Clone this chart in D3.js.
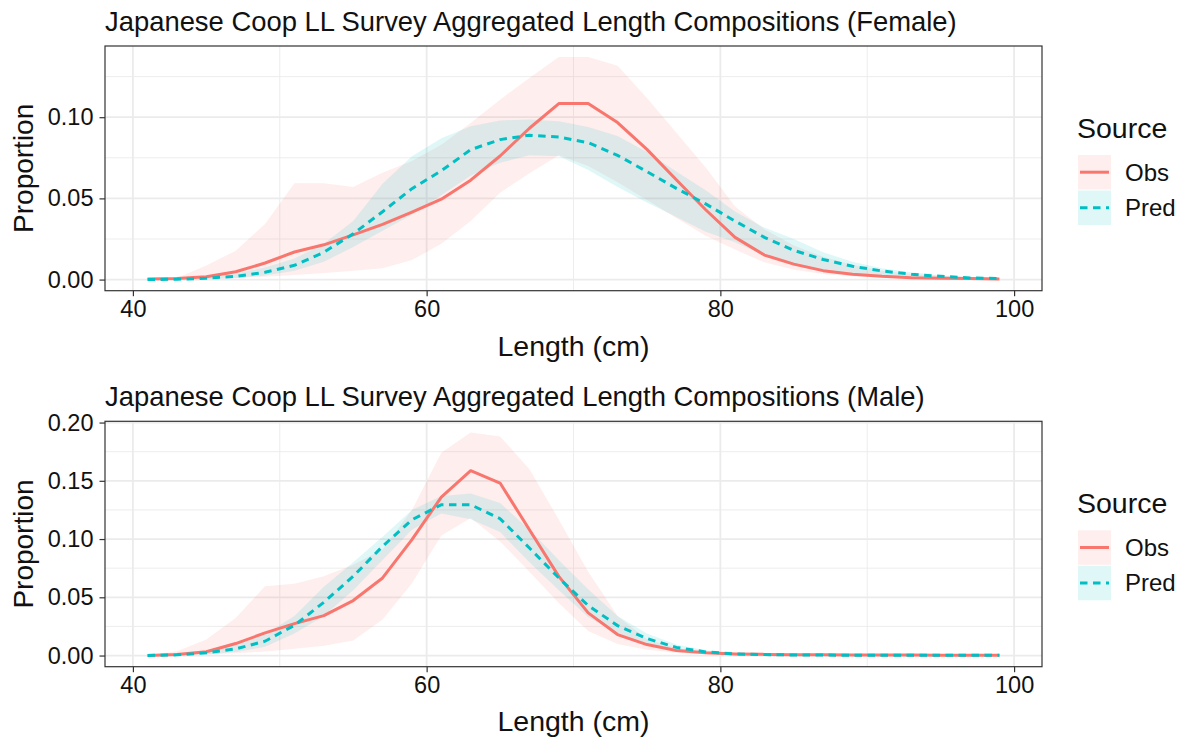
<!DOCTYPE html>
<html>
<head>
<meta charset="utf-8">
<script src="https://cdn.jsdelivr.net/npm/d3@7"></script>
<style>
  html, body { margin: 0; padding: 0; background: #fff; }
  svg { display: block; font-family: "Liberation Sans", Arial, sans-serif; }
</style>
</head>
<body>
<svg id="chart" width="1183" height="738"></svg>
<script>
// ---------------- DATA ----------------
const lengths = [41,43,45,47,49,51,53,55,57,59,61,63,65,67,69,71,73,75,77,79,81,83,85,87,89,91,93,95,97,99];

const femaleObs      = [0.0003,0.0006,0.0018,0.0048,0.0102,0.0170,0.0214,0.0275,0.0340,0.0416,0.0495,0.0612,0.0761,0.0932,0.1084,0.1084,0.0967,0.0802,0.0615,0.0430,0.0260,0.0151,0.0095,0.0055,0.0033,0.0020,0.0012,0.0008,0.0006,0.0004];
const femaleObsHi    = [0.0002,0.0010,0.0086,0.0178,0.0342,0.0593,0.0593,0.0570,0.0658,0.0730,0.0830,0.0965,0.1108,0.1241,0.1370,0.1370,0.1317,0.1119,0.0904,0.0690,0.0450,0.0310,0.0210,0.0140,0.0090,0.0055,0.0035,0.0022,0.0014,0.0010];
const femaleObsLo    = [0.0000,0.0000,0.0002,0.0008,0.0018,0.0028,0.0040,0.0055,0.0070,0.0120,0.0220,0.0360,0.0535,0.0655,0.0765,0.0700,0.0600,0.0490,0.0380,0.0270,0.0185,0.0106,0.0060,0.0035,0.0020,0.0011,0.0006,0.0004,0.0002,0.0001];
const femalePred     = [0.0000,0.0002,0.0008,0.0020,0.0045,0.0088,0.0168,0.0282,0.0418,0.0560,0.0670,0.0800,0.0862,0.0889,0.0878,0.0843,0.0765,0.0665,0.0562,0.0466,0.0360,0.0260,0.0180,0.0124,0.0082,0.0053,0.0033,0.0020,0.0010,0.0006];
const femalePredHi   = [0.0001,0.0005,0.0016,0.0038,0.0075,0.0130,0.0220,0.0360,0.0590,0.0760,0.0870,0.0945,0.0980,0.0986,0.0975,0.0940,0.0884,0.0785,0.0665,0.0550,0.0420,0.0320,0.0250,0.0168,0.0110,0.0070,0.0045,0.0027,0.0016,0.0010];
const femalePredLo   = [0.0000,0.0000,0.0003,0.0010,0.0025,0.0055,0.0110,0.0200,0.0300,0.0400,0.0520,0.0640,0.0720,0.0765,0.0760,0.0675,0.0570,0.0475,0.0385,0.0295,0.0230,0.0147,0.0086,0.0048,0.0027,0.0016,0.0009,0.0005,0.0003,0.0002];

const maleObs        = [0.0000,0.0009,0.0032,0.0103,0.0194,0.0274,0.0343,0.0472,0.0666,0.0995,0.1360,0.1587,0.1481,0.1080,0.0680,0.0366,0.0180,0.0094,0.0043,0.0023,0.0014,0.0010,0.0007,0.0006,0.0005,0.0004,0.0004,0.0003,0.0003,0.0003];
const maleObsHi      = [0.0002,0.0037,0.0137,0.0323,0.0595,0.0617,0.0680,0.0780,0.0910,0.1250,0.1740,0.1915,0.1880,0.1600,0.1166,0.0720,0.0340,0.0140,0.0065,0.0032,0.0016,0.0010,0.0008,0.0008,0.0008,0.0008,0.0008,0.0008,0.0008,0.0008];
const maleObsLo      = [0.0000,0.0002,0.0008,0.0020,0.0035,0.0058,0.0085,0.0130,0.0310,0.0620,0.1030,0.1180,0.0980,0.0720,0.0450,0.0210,0.0100,0.0050,0.0024,0.0012,0.0006,0.0002,0.0002,0.0002,0.0002,0.0002,0.0002,0.0002,0.0002,0.0002];
const malePred       = [0.0000,0.0006,0.0023,0.0057,0.0123,0.0260,0.0457,0.0680,0.0938,0.1166,0.1295,0.1295,0.1175,0.0923,0.0666,0.0429,0.0257,0.0146,0.0070,0.0031,0.0014,0.0008,0.0005,0.0004,0.0003,0.0003,0.0003,0.0003,0.0003,0.0003];
const malePredHi     = [0.0001,0.0012,0.0040,0.0090,0.0180,0.0340,0.0590,0.0800,0.1020,0.1250,0.1370,0.1390,0.1310,0.1080,0.0820,0.0570,0.0340,0.0190,0.0095,0.0045,0.0020,0.0012,0.0008,0.0008,0.0008,0.0008,0.0008,0.0008,0.0008,0.0008];
const malePredLo     = [0.0000,0.0002,0.0010,0.0030,0.0075,0.0190,0.0340,0.0560,0.0820,0.1080,0.1220,0.1170,0.1060,0.0800,0.0560,0.0330,0.0190,0.0100,0.0045,0.0020,0.0009,0.0002,0.0002,0.0002,0.0002,0.0002,0.0002,0.0002,0.0002,0.0002];

const xTicks = [40, 60, 80, 100];
const xMinor = [50, 70, 90];
const femaleYTicks = [0.00, 0.05, 0.10];
const maleYTicks = [0.00, 0.05, 0.10, 0.15, 0.20];
const titles = [
  "Japanese Coop LL Survey Aggregated Length Compositions (Female)",
  "Japanese Coop LL Survey Aggregated Length Compositions (Male)"
];
const xLabel = "Length (cm)";
const yLabel = "Proportion";
const legendTitle = "Source";
const seriesNames = ["Obs", "Pred"];

// ---------------- STYLE / LAYOUT ----------------
const colObs = "#F8766D", colPred = "#00BFC4";
const ribbonAlpha = 0.12;
const dashPred = "7.5,5.5";
const txt = "#111";

const panelLeft = 105, panelRight = 1042;
const panels = [
  { title: titles[0], top: 46, bottom: 290.7, yTicks: femaleYTicks,
    obs: femaleObs, obsHi: femaleObsHi, obsLo: femaleObsLo,
    pred: femalePred, predHi: femalePredHi, predLo: femalePredLo },
  { title: titles[1], top: 421.3, bottom: 666.7, yTicks: maleYTicks,
    obs: maleObs, obsHi: maleObsHi, obsLo: maleObsLo,
    pred: malePred, predHi: malePredHi, predLo: malePredLo }
];

const svg = d3.select("#chart");

const xExt = d3.extent(lengths);
const xPad = (xExt[1] - xExt[0]) * 0.05;
const x = d3.scaleLinear().domain([xExt[0] - xPad, xExt[1] + xPad]).range([panelLeft, panelRight]);

panels.forEach((p, pi) => {
  const off = p.top - panels[0].top;
  const yMax = d3.max([...p.obsHi, ...p.predHi, ...p.obs, ...p.pred]);
  const yMin = d3.min([...p.obsLo, ...p.predLo]);
  const yPad = (yMax - yMin) * 0.05;
  const y = d3.scaleLinear().domain([yMin - yPad, yMax + yPad]).range([p.bottom, p.top]);

  const g = svg.append("g");

  // minor y grid
  const yMinor = [];
  for (let i = 0; i < p.yTicks.length - 1; i++) yMinor.push((p.yTicks[i] + p.yTicks[i + 1]) / 2);
  const step = p.yTicks[1] - p.yTicks[0];
  const extra = p.yTicks[p.yTicks.length - 1] + step / 2;
  if (extra < y.domain()[1]) yMinor.push(extra);

  g.selectAll(".ymin").data(yMinor).enter().append("line")
    .attr("x1", panelLeft).attr("x2", panelRight)
    .attr("y1", d => y(d)).attr("y2", d => y(d))
    .attr("stroke", "#EBEBEB").attr("stroke-width", 0.9);
  g.selectAll(".xmin").data(xMinor).enter().append("line")
    .attr("y1", p.top).attr("y2", p.bottom)
    .attr("x1", d => x(d)).attr("x2", d => x(d))
    .attr("stroke", "#EBEBEB").attr("stroke-width", 0.9);
  g.selectAll(".ymaj").data(p.yTicks).enter().append("line")
    .attr("x1", panelLeft).attr("x2", panelRight)
    .attr("y1", d => y(d)).attr("y2", d => y(d))
    .attr("stroke", "#EBEBEB").attr("stroke-width", 1.8);
  g.selectAll(".xmaj").data(xTicks).enter().append("line")
    .attr("y1", p.top).attr("y2", p.bottom)
    .attr("x1", d => x(d)).attr("x2", d => x(d))
    .attr("stroke", "#EBEBEB").attr("stroke-width", 1.8);

  const idx = d3.range(lengths.length);
  const areaObs = d3.area().x(i => x(lengths[i])).y0(i => y(p.obsLo[i])).y1(i => y(p.obsHi[i]));
  const areaPred = d3.area().x(i => x(lengths[i])).y0(i => y(p.predLo[i])).y1(i => y(p.predHi[i]));
  g.append("path").attr("d", areaObs(idx)).attr("fill", colObs).attr("fill-opacity", ribbonAlpha);
  g.append("path").attr("d", areaPred(idx)).attr("fill", colPred).attr("fill-opacity", ribbonAlpha);

  const lineObs = d3.line().x(i => x(lengths[i])).y(i => y(p.obs[i]));
  const linePred = d3.line().x(i => x(lengths[i])).y(i => y(p.pred[i]));
  g.append("path").attr("d", lineObs(idx)).attr("fill", "none")
    .attr("stroke", colObs).attr("stroke-width", 3).attr("stroke-linejoin", "round");
  g.append("path").attr("d", linePred(idx)).attr("fill", "none")
    .attr("stroke", colPred).attr("stroke-width", 3).attr("stroke-dasharray", dashPred);

  // panel border
  g.append("rect").attr("x", panelLeft).attr("y", p.top)
    .attr("width", panelRight - panelLeft).attr("height", p.bottom - p.top)
    .attr("fill", "none").attr("stroke", "#333333").attr("stroke-width", 1.2);

  // axes
  const yAxis = d3.axisLeft(y).tickValues(p.yTicks).tickFormat(d3.format(".2f"))
    .tickSize(5.5).tickPadding(6);
  const ya = g.append("g").attr("transform", `translate(${panelLeft},0)`).call(yAxis);
  ya.select(".domain").remove();
  ya.selectAll("line").attr("stroke", "#333333").attr("stroke-width", 1.2);
  ya.selectAll("text").attr("fill", txt).style("font-size", "23.5px")
    .style("font-family", '"Liberation Sans", Arial, sans-serif');

  const xAxis = d3.axisBottom(x).tickValues(xTicks).tickFormat(d3.format("d"))
    .tickSize(5.5).tickPadding(4);
  const xa = g.append("g").attr("transform", `translate(0,${p.bottom})`).call(xAxis);
  xa.select(".domain").remove();
  xa.selectAll("line").attr("stroke", "#333333").attr("stroke-width", 1.2);
  xa.selectAll("text").attr("fill", txt).style("font-size", "23.5px")
    .style("font-family", '"Liberation Sans", Arial, sans-serif');

  // titles
  g.append("text").attr("x", panelLeft).attr("y", 31 + off)
    .attr("fill", txt).style("font-size", "27.4px").text(p.title);
  g.append("text").attr("x", (panelLeft + panelRight) / 2).attr("y", 356 + off)
    .attr("text-anchor", "middle").attr("fill", txt).style("font-size", "28.5px").text(xLabel);
  g.append("text")
    .attr("transform", `translate(33,${(p.top + p.bottom) / 2}) rotate(-90)`)
    .attr("text-anchor", "middle").attr("fill", txt).style("font-size", "28px").text(yLabel);

  // legend
  const lg = g.append("g").attr("transform", `translate(0,${off})`);
  lg.append("text").attr("x", 1077).attr("y", 138).attr("fill", txt)
    .style("font-size", "28.5px").text(legendTitle);
  const keys = [
    { name: seriesNames[0], col: colObs, dash: null, y0: 155 },
    { name: seriesNames[1], col: colPred, dash: dashPred, y0: 190.5 }
  ];
  keys.forEach(k => {
    lg.append("rect").attr("x", 1078).attr("y", k.y0).attr("width", 33).attr("height", 34.5)
      .attr("fill", k.col).attr("fill-opacity", ribbonAlpha);
    const ln = lg.append("line").attr("x1", 1080).attr("x2", 1109)
      .attr("y1", k.y0 + 17.2).attr("y2", k.y0 + 17.2)
      .attr("stroke", k.col).attr("stroke-width", 3);
    if (k.dash) ln.attr("stroke-dasharray", k.dash);
    lg.append("text").attr("x", 1125).attr("y", k.y0 + 17.2)
      .attr("dy", "0.35em").attr("fill", txt).style("font-size", "24px").text(k.name);
  });
});
</script>
</body>
</html>
